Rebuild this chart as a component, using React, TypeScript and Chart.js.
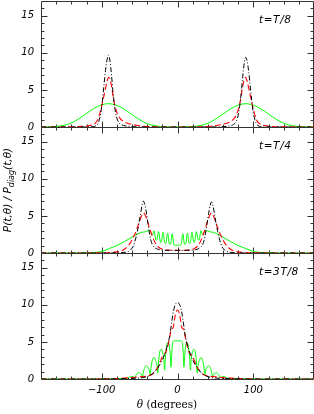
import React, { useEffect, useRef } from 'react';
import { Chart, registerables } from 'chart.js';

Chart.register(...registerables);

// ---------- axes ----------
const THETA_MIN = -180;
const THETA_MAX = 180;
const Y_MIN = 0;
const Y_MAX = 17;
const Y_TICKS = [0, 5, 10, 15];
const X_TICKS = [-100, 0, 100];
const PANEL_LABELS = ['t=T/8', 't=T/4', 't=3T/8'];

// ---------- panel 1 : t = T/8 ----------
const P1_BLACK_T = [-180,-130,-115,-111,-107,-105,-103,-101,-99,-97,-95,-93,-91,-89,-87,-85,-83,-81,-79,-77,-75,-71,-66,-60,-50,-30,30,50,60,66,71,74,76,78,80,82,84,86,88,90,92,94,96,98,100,102,104,106,110,116,130,180];
const P1_BLACK_V = [0,0,0.02,0.05,0.2,0.45,1.0,2.0,3.6,5.6,7.6,9.0,9.7,8.9,7.0,4.6,2.8,1.6,0.9,0.55,0.35,0.2,0.1,0.05,0.02,0,0,0.02,0.05,0.1,0.2,0.35,0.55,0.9,1.6,2.8,4.6,6.8,8.6,9.4,8.8,7.4,5.4,3.5,1.9,1.0,0.45,0.2,0.05,0.02,0,0];

const P1_RED_T = [-180,-135,-125,-118,-112,-108,-105,-103,-101,-99,-97,-95,-93,-91,-89,-87,-85,-83,-81,-79,-76,-72,-67,-60,-52,-45,-35,-20,20,34,44,51,59,66,71,75,78,80,82,84,86,88,90,92,94,96,98,100,102,104,107,111,117,124,134,180];
const P1_RED_V = [0,0.03,0.08,0.15,0.3,0.55,1.0,1.6,2.4,3.3,4.2,5.2,6.1,6.7,6.4,5.5,4.2,3.1,2.3,1.7,1.2,0.8,0.55,0.35,0.2,0.1,0.04,0.01,0.01,0.04,0.1,0.2,0.35,0.55,0.8,1.2,1.7,2.3,3.1,4.2,5.5,6.4,6.7,6.1,5.2,4.2,3.3,2.4,1.6,1.0,0.55,0.3,0.15,0.08,0.03,0];

const P1_GREEN_T = [-180,-171,-161,-151,-141,-131,-121,-111,-101,-91,-81,-71,-61,-51,-41,-31,-21,-11,0,10,20,30,40,50,60,70,80,90,100,110,120,130,140,150,160,170,180];
const P1_GREEN_V = [0.01,0.02,0.07,0.2,0.5,1.05,1.75,2.45,2.95,3.15,2.95,2.45,1.75,1.05,0.5,0.2,0.07,0.02,0.01,0.02,0.07,0.2,0.5,1.05,1.75,2.45,2.95,3.15,2.95,2.45,1.75,1.05,0.5,0.2,0.07,0.02,0.01];

// ---------- panel 2 : t = T/4 ----------
const P2_BLACK_T = [-180,-100,-85,-75,-69,-65,-62,-59,-57,-55,-53,-51,-49,-47,-45,-43,-41,-39,-37,-35,-33,-31,-28,-24,-18,-10,0,10,18,24,28,31,33,35,37,39,41,43,45,47,49,51,53,55,57,59,62,65,69,75,85,100,180];
const P2_BLACK_V = [0,0,0.01,0.04,0.1,0.2,0.4,0.8,1.3,2.0,2.9,3.9,5.1,6.3,7.0,6.5,5.4,4.0,2.7,1.7,1.1,0.8,0.6,0.45,0.38,0.35,0.35,0.35,0.38,0.45,0.6,0.8,1.1,1.7,2.7,4.0,5.3,6.4,6.9,6.3,5.1,3.9,2.9,2.0,1.3,0.8,0.4,0.2,0.1,0.04,0.01,0,0];

const P2_RED_T = [-180,-120,-100,-90,-80,-74,-70,-66,-62,-59,-56,-53,-50,-47,-45,-43,-41,-39,-37,-35,-33,-30,-27,-24,-20,-14,-6,0,6,14,20,24,27,30,33,35,37,39,41,43,45,47,50,53,56,59,62,66,70,74,80,90,100,120,180];
const P2_RED_V = [0,0.01,0.03,0.07,0.15,0.3,0.5,0.85,1.4,2.0,2.6,3.4,4.3,5.1,5.4,5.2,4.7,4.1,3.4,2.8,2.2,1.5,1.0,0.7,0.5,0.4,0.38,0.38,0.38,0.4,0.5,0.7,1.0,1.5,2.2,2.8,3.4,4.1,4.7,5.2,5.4,5.1,4.3,3.4,2.6,2.0,1.4,0.85,0.5,0.3,0.15,0.07,0.03,0.01,0];

const P2_GREEN_T = [-180,-130,-120,-110,-103,-96,-90,-84,-77,-70,-64,-58,-52,-47,-43,-40,-37,-34,-32.5,-31.7,-31,-30.3,-29.5,-28,-26.5,-25.7,-25,-24.3,-23.5,-22,-20.5,-19.7,-19,-18.3,-17.5,-16,-14.5,-13.7,-13,-12.3,-11.5,-10,-8.5,-7.7,-7,-6.3,-5.5,-4.5,-3,
  0,
  3,4.5,5.5,6.3,7,7.7,8.5,10,11.5,12.3,13,13.7,14.5,16,17.5,18.3,19,19.7,20.5,22,23.5,24.3,25,25.7,26.5,28,29.5,30.3,31,31.7,32.5,34,37,40,43,47,52,58,64,70,77,84,90,96,103,110,120,130,180];
const P2_GREEN_V = [0,0.01,0.03,0.07,0.15,0.35,0.6,0.85,1.15,1.55,1.9,2.25,2.6,2.8,2.85,2.95,3.05,2.6,2.5,2.8,3.0,2.8,2.2,1.7,2.1,2.6,2.9,2.6,2.0,1.4,1.9,2.5,2.8,2.5,1.8,1.25,1.7,2.4,2.7,2.4,1.6,1.15,1.5,2.3,2.6,2.3,1.5,1.1,1.05,
  1.05,
  1.05,1.1,1.5,2.3,2.6,2.3,1.5,1.15,1.6,2.4,2.7,2.4,1.7,1.25,1.8,2.5,2.8,2.5,1.9,1.4,2.0,2.6,2.9,2.6,2.1,1.7,2.2,2.8,3.0,2.8,2.5,2.6,3.05,2.95,2.85,2.8,2.6,2.25,1.9,1.55,1.15,0.85,0.6,0.35,0.15,0.07,0.03,0.01,0];

// ---------- panel 3 : t = 3T/8 ----------
const P3_BLACK_T = [-180,-110,-90,-70,-55,-45,-38,-33,-30,-26,-23,-20,-17,-14,-12,-10,-8,-6,-4,-2,0,2,4,6,8,10,12,14,17,20,23,26,30,33,38,45,55,70,90,110,180];
const P3_BLACK_V = [0,0,0.01,0.04,0.1,0.2,0.4,0.7,1.0,1.5,2.0,2.6,3.3,4.3,5.0,6.0,7.4,8.8,9.7,10.2,10.3,10.2,9.7,8.8,7.4,6.0,5.0,4.3,3.3,2.6,2.0,1.5,1.0,0.7,0.4,0.2,0.1,0.04,0.01,0,0];

const P3_RED_T = [-180,-120,-95,-80,-70,-60,-50,-40,-34,-30,-26,-23,-20,-18,-16,-14,-12,-10,-8.5,-7,-5.5,-4,-2,0,2,4,5.5,7,8.5,10,12,14,16,18,20,23,26,30,34,40,50,60,70,80,95,120,180];
const P3_RED_V = [0,0,0.02,0.06,0.12,0.2,0.3,0.4,0.6,1.0,1.6,2.3,3.0,3.3,3.5,4.0,4.8,5.8,6.6,6.8,7.0,8.0,9.0,9.3,9.0,8.0,7.0,6.8,6.6,5.8,4.8,4.0,3.5,3.3,3.0,2.3,1.6,1.0,0.6,0.4,0.3,0.2,0.12,0.06,0.02,0,0];

const P3_GREEN_T = [-180,-110,-90,-80,-72,-66,-64,-61,-57.5,-56,-55,-53,-51,-49,-47,-46,-45,-43.2,-41,-38.8,-37,-36,-35,-33.2,-31,-28.8,-27,-26,-25,-23.7,-21.5,-19.3,-18,-17,-16,-14.5,-12.5,-10.5,-9.5,-8.5,-7.5,-6.5,-5.5,-4,
  0,
  4,5.5,6.5,7.5,8.5,9.5,10.5,12.5,14.5,16,17,18,19.3,21.5,23.7,25,26,27,28.8,31,33.2,35,36,37,38.8,41,43.2,45,46,47,49,51,53,55,56,57.5,61,64,66,72,80,90,110,180];
const P3_GREEN_V = [0,0.01,0.02,0.05,0.08,0.1,0.22,0.32,0.25,0.15,0.45,0.75,0.85,0.75,0.55,0.3,0.9,1.55,1.8,1.55,1.1,0.5,1.5,2.5,2.9,2.5,1.8,0.8,2.2,3.5,4.0,3.5,2.6,1.2,2.8,4.3,4.9,4.3,3.2,1.6,3.6,4.8,5.1,5.15,
  5.15,
  5.15,5.1,4.8,3.6,1.6,3.2,4.3,4.9,4.3,2.8,1.2,2.6,3.5,4.0,3.5,2.2,0.8,1.8,2.5,2.9,2.5,1.5,0.5,1.1,1.55,1.8,1.55,0.9,0.3,0.55,0.75,0.85,0.75,0.45,0.15,0.25,0.32,0.22,0.1,0.08,0.05,0.02,0.01,0];

// ---------- styles ----------
const BLACK = '#000000';
const RED = '#ff0000';
const GREEN = '#00ff00';
const FRAME = '#333333';
const TICK_FONT = { family: 'DejaVu Sans', size: 10, style: 'italic' as const };

const PANELS = [
  { top: 0, height: 136, padTop: 1, padBottom: 9, xAxis: false,
    bt: P1_BLACK_T, bv: P1_BLACK_V, rt: P1_RED_T, rv: P1_RED_V, gt: P1_GREEN_T, gv: P1_GREEN_V },
  { top: 118, height: 144, padTop: 9, padBottom: 9, xAxis: false,
    bt: P2_BLACK_T, bv: P2_BLACK_V, rt: P2_RED_T, rv: P2_RED_V, gt: P2_GREEN_T, gv: P2_GREEN_V },
  { top: 244, height: 170, padTop: 9, padBottom: 0, xAxis: true,
    bt: P3_BLACK_T, bv: P3_BLACK_V, rt: P3_RED_T, rv: P3_RED_V, gt: P3_GREEN_T, gv: P3_GREEN_V },
];

function pts(t: number[], v: number[]) {
  return t.map((x, i) => ({ x, y: v[i] }));
}

function fmtX(v: number) {
  return v < 0 ? '\u2212' + Math.abs(v) : String(v);
}

function framePlugin(index: number, p: any) {
  return {
    id: 'frame' + index,
    beforeDatasetsDraw(chart: any) {
      const { ctx, chartArea: a } = chart;
      const xs = chart.scales.x;
      const ys = chart.scales.y;
      const L = a.left + 0.5, R = a.right - 0.5, T = a.top + 0.5, B = a.bottom + 0.5;
      ctx.save();
      ctx.strokeStyle = FRAME;
      ctx.lineWidth = 1;
      ctx.beginPath();
      ctx.moveTo(L, T); ctx.lineTo(R, T); ctx.lineTo(R, B); ctx.lineTo(L, B); ctx.closePath();
      for (let v = Y_MIN + 1; v < Y_MAX; v++) {
        const y = Math.round(ys.getPixelForValue(v)) + 0.5;
        const len = v % 5 === 0 ? 6 : 3;
        ctx.moveTo(L, y); ctx.lineTo(L + len, y);
        ctx.moveTo(R, y); ctx.lineTo(R - len, y);
      }
      for (let v = THETA_MIN + 20; v < THETA_MAX; v += 20) {
        const x = Math.round(xs.getPixelForValue(v)) + 0.5;
        const len = v % 100 === 0 ? 6 : 3;
        ctx.moveTo(x, B); ctx.lineTo(x, B - len);
        ctx.moveTo(x, T); ctx.lineTo(x, T + len);
      }
      ctx.stroke();
      ctx.restore();
    },
    afterDraw(chart: any) {
      const { ctx, chartArea: a } = chart;
      ctx.save();
      ctx.fillStyle = '#000';
      ctx.textAlign = 'left';
      ctx.textBaseline = 'alphabetic';
      ctx.font = "italic 10.5px 'DejaVu Sans'";
      try { (ctx as any).letterSpacing = '0.6px'; } catch (e) { /* ignore */ }
      ctx.fillText(PANEL_LABELS[index], 259, a.top + 21.5);
      try { (ctx as any).letterSpacing = '0px'; } catch (e) { /* ignore */ }

      if (index === 1) {
        // y-axis title, rotated
        ctx.save();
        ctx.translate(11, 190 - p.top);
        ctx.rotate(-Math.PI / 2);
        const big = "italic 10.5px 'DejaVu Sans'";
        const small = "italic 8px 'DejaVu Sans'";
        const parts = [
          { t: 'P(t,\u03b8) / P', f: big, dy: 0 },
          { t: 'diag', f: small, dy: 3 },
          { t: '(t,\u03b8)', f: big, dy: 0 },
        ];
        let total = 0;
        parts.forEach((q) => { ctx.font = q.f; total += ctx.measureText(q.t).width; });
        let x = -total / 2;
        parts.forEach((q) => { ctx.font = q.f; ctx.fillText(q.t, x, q.dy); x += ctx.measureText(q.t).width; });
        ctx.restore();
      }

      if (index === 2) {
        // x-axis title
        const y = 408 - p.top;
        ctx.font = "italic 10.5px 'DejaVu Serif'";
        const w1 = ctx.measureText('\u03b8').width;
        ctx.font = "10.5px 'DejaVu Serif'";
        const w2 = ctx.measureText(' (degrees)').width;
        let x = 167 - (w1 + w2) / 2;
        ctx.font = "italic 10.5px 'DejaVu Serif'";
        ctx.fillText('\u03b8', x, y);
        x += w1;
        ctx.font = "10.5px 'DejaVu Serif'";
        ctx.fillText(' (degrees)', x, y);
      }
      ctx.restore();
    },
  };
}

function makeConfig(p: any, index: number): any {
  return {
    type: 'line',
    data: {
      datasets: [
        { data: pts(p.bt, p.bv), borderColor: BLACK, borderDash: [5, 2, 1, 2], borderWidth: 1 },
        { data: pts(p.rt, p.rv), borderColor: RED, borderDash: [6, 3], borderWidth: 1.1 },
        { data: pts(p.gt, p.gv), borderColor: GREEN, borderWidth: 1 },
      ],
    },
    options: {
      animation: false,
      responsive: false,
      maintainAspectRatio: false,
      events: [],
      layout: { padding: { left: 0, right: 0, top: p.padTop, bottom: p.padBottom }, autoPadding: false },
      elements: {
        point: { radius: 0 },
        line: { cubicInterpolationMode: 'monotone', fill: false },
      },
      plugins: { legend: { display: false }, tooltip: { enabled: false }, title: { display: false } },
      scales: {
        x: {
          type: 'linear',
          min: THETA_MIN,
          max: THETA_MAX,
          display: p.xAxis,
          grid: { display: false, drawTicks: false },
          border: { display: false },
          afterBuildTicks: (s: any) => { s.ticks = X_TICKS.map((v) => ({ value: v })); },
          afterFit: (s: any) => { s.height = p.xAxis ? 35 : 0; s.paddingLeft = 0; s.paddingRight = 0; },
          ticks: { padding: 5, color: '#000', font: TICK_FONT, maxRotation: 0, autoSkip: false, callback: (v: any) => fmtX(Number(v)) },
        },
        y: {
          type: 'linear',
          min: Y_MIN,
          max: Y_MAX,
          grid: { display: false, drawTicks: false },
          border: { display: false },
          afterBuildTicks: (s: any) => { s.ticks = Y_TICKS.map((v) => ({ value: v })); },
          afterFit: (s: any) => { s.width = 41; s.paddingTop = 0; s.paddingBottom = 0; },
          ticks: { padding: 7, color: '#000', font: TICK_FONT, autoSkip: false },
        },
      },
    },
    plugins: [framePlugin(index, p)],
  };
}

export default function App() {
  const r0 = useRef<HTMLCanvasElement>(null);
  const r1 = useRef<HTMLCanvasElement>(null);
  const r2 = useRef<HTMLCanvasElement>(null);
  const refs = [r0, r1, r2];

  useEffect(() => {
    document.body.style.margin = '0';
    const charts = PANELS.map((p, i) => new Chart(refs[i].current as HTMLCanvasElement, makeConfig(p, i)));
    return () => charts.forEach((c) => c.destroy());
  }, []);

  return (
    <div style={{ position: 'absolute', left: 0, top: 0, width: 314, height: 414, background: '#fff' }}>
      {PANELS.map((p, i) => (
        <canvas
          key={i}
          ref={refs[i]}
          width={314}
          height={p.height}
          style={{ position: 'absolute', left: 0, top: p.top, width: 314, height: p.height }}
        />
      ))}
    </div>
  );
}
